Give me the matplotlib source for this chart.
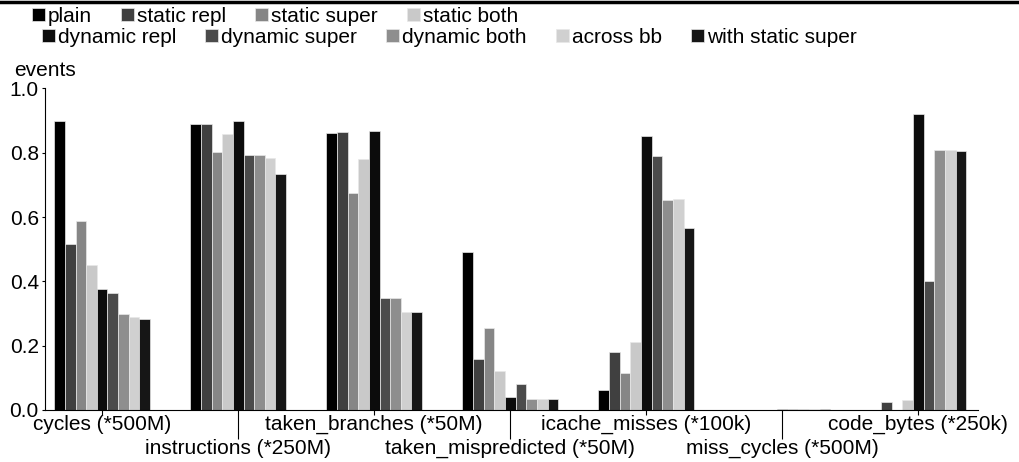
import numpy as np
import matplotlib
matplotlib.use("Agg")
import matplotlib.pyplot as plt
from matplotlib.lines import Line2D

plt.rcParams['font.family'] = ['Liberation Sans', 'DejaVu Sans']
plt.rcParams['font.size'] = 15

groups = ["cycles (*500M)", "instructions (*250M)", "taken_branches (*50M)",
          "taken_mispredicted (*50M)", "icache_misses (*100k)",
          "miss_cycles (*500M)", "code_bytes (*250k)"]

series = ["plain", "static repl", "static super", "static both",
          "dynamic repl", "dynamic super", "dynamic both", "across bb",
          "with static super"]

plain = [0.898, 0.889, 0.8625, 0.491, 0.0625, 0.001, 0.0]
static_repl = [0.516, 0.889, 0.8635, 0.160, 0.180, 0.001, 0.025]
static_super = [0.589, 0.803, 0.676, 0.254, 0.116, 0.001, 0.0]
static_both = [0.451, 0.858, 0.780, 0.122, 0.211, 0.001, 0.031]
dynamic_repl = [0.375, 0.898, 0.868, 0.040, 0.852, 0.004, 0.919]
dynamic_super = [0.365, 0.793, 0.349, 0.081, 0.790, 0.003, 0.402]
dynamic_both = [0.299, 0.793, 0.349, 0.034, 0.654, 0.002, 0.809]
across_bb = [0.290, 0.783, 0.304, 0.034, 0.656, 0.002, 0.809]
with_static_super = [0.283, 0.734, 0.305, 0.034, 0.566, 0.004, 0.805]

values = [plain, static_repl, static_super, static_both, dynamic_repl,
          dynamic_super, dynamic_both, across_bb, with_static_super]

colors = ["#000000", "#404040", "#868686", "#c9c9c9", "#0c0c0c",
          "#4b4b4b", "#8e8e8e", "#d0d0d0", "#161616"]

fig = plt.figure(figsize=(10.19, 4.62), dpi=100)
ax = fig.add_axes([0.0442, 0.1126, 0.9158, 0.6960])

x = np.arange(len(groups))
w = 0.0782
bars = []
for i, (name, vals) in enumerate(zip(series, values)):
    b = ax.bar(x + (i - 4) * w, vals, w, color=colors[i], label=name,
               edgecolor="#e8e8e8", linewidth=0.5)
    bars.append(b)

ax.set_xlim(-0.42, 6.44)
ax.set_ylim(0, 1.0)
ax.set_yticks([0.0, 0.2, 0.4, 0.6, 0.8, 1.0])
ax.set_yticklabels(["0.0", "0.2", "0.4", "0.6", "0.8", "1.0"])
ax.spines['top'].set_visible(False)
ax.spines['right'].set_visible(False)
ax.tick_params(axis='y', length=2.5, width=0.8, pad=2)

# alternate labels on two rows
ax.set_xticks(x[::2], groups[::2])
ax.set_xticks(x[1::2], groups[1::2], minor=True)
ax.tick_params(axis='x', which='major', length=3.5, width=0.8, pad=0)
ax.tick_params(axis='x', which='minor', length=21, width=0.8, pad=0)

fig.text(0.014, 0.848, "events", fontsize=15, va='center', ha='left')

kw = dict(frameon=False, loc='upper left', handlelength=0.62, handleheight=0.62,
          handletextpad=0.15, columnspacing=1.4, borderpad=0, borderaxespad=0,
          fontsize=15)
leg1 = fig.legend(bars[:4], series[:4], ncol=4, bbox_to_anchor=(0.031, 0.985), **kw)
leg2 = fig.legend(bars[4:], series[4:], ncol=5, bbox_to_anchor=(0.041, 0.94), **kw)

fig.add_artist(Line2D([0, 1], [0.996, 0.996], transform=fig.transFigure,
                      color="black", linewidth=2.5))

fig.savefig("out.png", dpi=100)
